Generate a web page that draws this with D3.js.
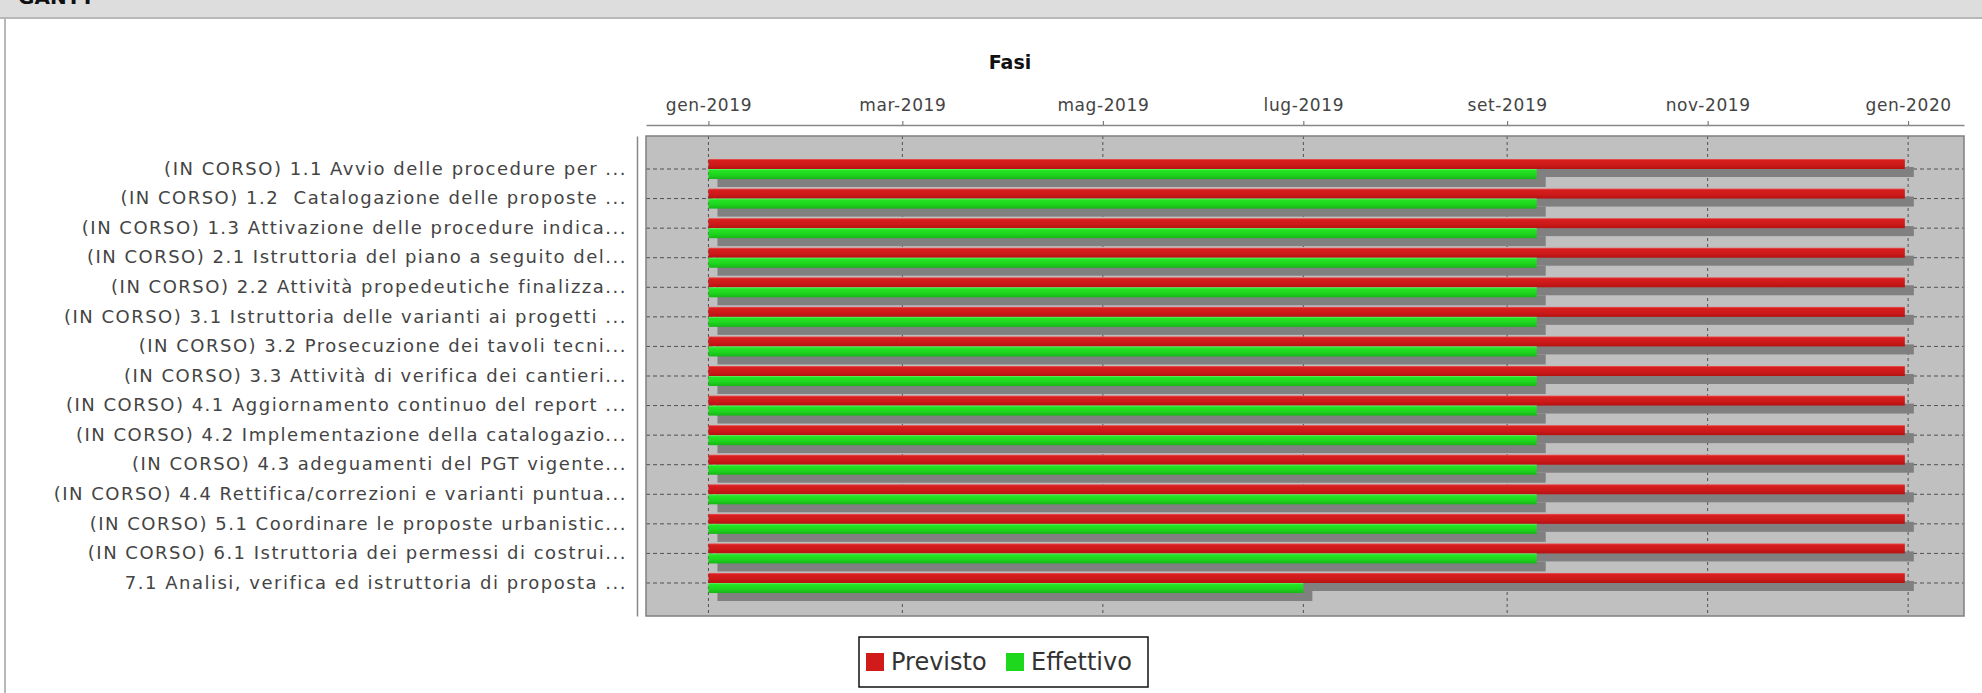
<!DOCTYPE html>
<meta charset="utf-8">
<style>
body { margin: 0; background: #fff; }
text { font-family: 'DejaVu Sans', sans-serif; }
.tick text { fill: #444; white-space: pre; }
</style>
<body>
<script src="https://d3js.org/d3.v7.min.js"></script>
<script>

	var categories = [
		"(IN CORSO) 1.1 Avvio delle procedure per ...",
		"(IN CORSO) 1.2  Catalogazione delle proposte ...",
		"(IN CORSO) 1.3 Attivazione delle procedure indica...",
		"(IN CORSO) 2.1 Istruttoria del piano a seguito del...",
		"(IN CORSO) 2.2 Attività propedeutiche finalizza...",
		"(IN CORSO) 3.1 Istruttoria delle varianti ai progetti ...",
		"(IN CORSO) 3.2 Prosecuzione dei tavoli tecni...",
		"(IN CORSO) 3.3 Attività di verifica dei cantieri...",
		"(IN CORSO) 4.1 Aggiornamento continuo del report ...",
		"(IN CORSO) 4.2 Implementazione della catalogazio...",
		"(IN CORSO) 4.3 adeguamenti del PGT vigente...",
		"(IN CORSO) 4.4 Rettifica/correzioni e varianti puntua...",
		"(IN CORSO) 5.1 Coordinare le proposte urbanistic...",
		"(IN CORSO) 6.1 Istruttoria dei permessi di costrui...",
		"7.1 Analisi, verifica ed istruttoria di proposta ..."
	];

	var seriesNames = ["Previsto", "Effettivo"];
	var seriesColours = ["#d11a1a", "#1ed81e"];

	var previstoStart = ["2019-01-01","2019-01-01","2019-01-01","2019-01-01","2019-01-01","2019-01-01","2019-01-01","2019-01-01","2019-01-01","2019-01-01","2019-01-01","2019-01-01","2019-01-01","2019-01-01","2019-01-01"];
	var previstoEnd = ["2019-12-31","2019-12-31","2019-12-31","2019-12-31","2019-12-31","2019-12-31","2019-12-31","2019-12-31","2019-12-31","2019-12-31","2019-12-31","2019-12-31","2019-12-31","2019-12-31","2019-12-31"];

	var effettivoStart = ["2019-01-01","2019-01-01","2019-01-01","2019-01-01","2019-01-01","2019-01-01","2019-01-01","2019-01-01","2019-01-01","2019-01-01","2019-01-01","2019-01-01","2019-01-01","2019-01-01","2019-01-01"];
	var effettivoEnd = ["2019-09-10","2019-09-10","2019-09-10","2019-09-10","2019-09-10","2019-09-10","2019-09-10","2019-09-10","2019-09-10","2019-09-10","2019-09-10","2019-09-10","2019-09-10","2019-09-10","2019-07-01"];

	var tickDates = ["2019-01-01","2019-03-01","2019-05-01","2019-07-01","2019-09-01","2019-11-01","2020-01-01"];
	var tickLabels = ["gen-2019","mar-2019","mag-2019","lug-2019","set-2019","nov-2019","gen-2020"];

	var title = "Fasi";
	var header = "GANTT";

	var width = 1982,
		height = 693;

	var plotLeft = 646, plotRight = 1964,
		plotTop = 136, plotBottom = 616;

	var shadowX = 9, shadowY = 8;

	var parse = d3.timeParse("%Y-%m-%d");

	var rows = categories.map(function(c, i) {
		return {
			name: c,
			bars: [
				{ series: seriesNames[0], start: parse(previstoStart[i]), end: parse(previstoEnd[i]) },
				{ series: seriesNames[1], start: parse(effettivoStart[i]), end: parse(effettivoEnd[i]) }
			]
		};
	});

	var svg = d3.select("body").append("svg")
		.attr("width", width)
		.attr("height", height);

	var defs = svg.append("defs");
	var grads = [
		["grad0", ["#e86060", "#d81e1e", "#cc1919", "#b51212"]],
		["grad1", ["#70f070", "#24e424", "#1ed41e", "#17b517"]]
	];
	grads.forEach(function(g) {
		var lg = defs.append("linearGradient").attr("id", g[0])
			.attr("x1", 0).attr("x2", 0).attr("y1", 0).attr("y2", 1);
		[0, 0.15, 0.6, 1].forEach(function(o, k) {
			lg.append("stop").attr("offset", o).attr("stop-color", g[1][k]);
		});
	});

	//header band
	svg.append("rect")
		.attr("x", 0).attr("y", 0)
		.attr("width", width).attr("height", 17)
		.attr("fill", "#dddddd");
	svg.append("line")
		.attr("x1", 0).attr("x2", width)
		.attr("y1", 18).attr("y2", 18)
		.style("stroke", "#b8b8b8").style("stroke-width", 2);
	svg.append("line")
		.attr("x1", 5).attr("x2", 5)
		.attr("y1", 18).attr("y2", height)
		.style("stroke", "#b8b8b8").style("stroke-width", 2);
	svg.append("text")
		.attr("x", 18).attr("y", 4)
		.style("font-size", "20px")
		.style("font-weight", "bold")
		.attr("fill", "#111")
		.text(header);

	var x = d3.scaleTime()
		.domain([d3.timeDay.offset(parse(previstoStart[0]), -18.2), d3.timeDay.offset(parse(previstoEnd[0]), 18.2)])
		.range([plotLeft, plotRight]);

	var y = d3.scaleBand()
		.domain(categories)
		.range([plotTop, plotBottom])
		.paddingInner(0.2)
		.paddingOuter(0.716);

	var ySub = d3.scaleBand()
		.domain(seriesNames)
		.range([0, y.bandwidth()])
		.paddingOuter(0.18);

	//plot background
	svg.append("rect")
		.attr("x", plotLeft).attr("y", plotTop)
		.attr("width", plotRight - plotLeft).attr("height", plotBottom - plotTop)
		.attr("fill", "#c0c0c0");

	var ticks = tickDates.map(parse);

	//gridlines
	svg.append("g").selectAll("line")
		.data(ticks)
		.enter().append("line")
			.attr("x1", function(d) { return x(d); })
			.attr("x2", function(d) { return x(d); })
			.attr("y1", plotTop).attr("y2", plotBottom)
			.style("stroke", "#505050")
			.style("stroke-width", 1)
			.style("stroke-dasharray", "3,3");

	svg.append("g").selectAll("line")
		.data(categories)
		.enter().append("line")
			.attr("x1", plotLeft).attr("x2", plotRight)
			.attr("y1", function(d) { return y(d) + y.bandwidth()/2; })
			.attr("y2", function(d) { return y(d) + y.bandwidth()/2; })
			.style("stroke", "#505050")
			.style("stroke-width", 1)
			.style("stroke-dasharray", "4,3");

	var rowG = svg.append("g").selectAll("g")
		.data(rows)
		.enter().append("g")
			.attr("transform", function(d) { return "translate(0," + y(d.name) + ")"; });

	//shadows
	rowG.selectAll(".shadow")
		.data(function(d) { return d.bars; })
		.enter().append("rect")
			.attr("class", "shadow")
			.attr("x", function(d) { return x(d.start) + shadowX; })
			.attr("y", function(d) { return ySub(d.series) + shadowY; })
			.attr("width", function(d) { return x(d.end) - x(d.start); })
			.attr("height", ySub.bandwidth())
			.attr("fill", "#808080");

	rowG.selectAll(".bar")
		.data(function(d) { return d.bars; })
		.enter().append("rect")
			.attr("class", "bar")
			.attr("x", function(d) { return x(d.start); })
			.attr("y", function(d) { return ySub(d.series); })
			.attr("width", function(d) { return x(d.end) - x(d.start); })
			.attr("height", ySub.bandwidth())
			.attr("fill", function(d) { return "url(#grad" + seriesNames.indexOf(d.series) + ")"; });

	//plot outline
	svg.append("rect")
		.attr("x", plotLeft).attr("y", plotTop)
		.attr("width", plotRight - plotLeft).attr("height", plotBottom - plotTop)
		.attr("fill", "none")
		.style("stroke", "#808080")
		.style("stroke-width", 1.5);

	//date axis on top
	var xAxis = d3.axisTop(x)
		.tickValues(ticks)
		.tickFormat(function(d, i) { return tickLabels[i]; })
		.tickSizeInner(4)
		.tickSizeOuter(0)
		.tickPadding(10);

	var gx = svg.append("g")
		.attr("transform", "translate(0," + (plotTop - 11) + ")")
		.call(xAxis);
	gx.select(".domain").style("stroke", "#888").style("stroke-width", 1.5);
	gx.selectAll(".tick line").style("stroke", "#666");
	gx.selectAll(".tick text")
		.style("font-size", "17px")
		.style("letter-spacing", "0.6px")
		.attr("font-family", null);

	//category axis
	var yAxis = d3.axisLeft(y)
		.tickSize(0)
		.tickPadding(10);

	var gy = svg.append("g")
		.attr("transform", "translate(" + (plotLeft - 9) + ",0)")
		.call(yAxis);
	gy.select(".domain").style("stroke", "#888").style("stroke-width", 1.5);
	gy.selectAll(".tick text")
		.style("font-size", "18px")
		.style("letter-spacing", "1.5px")
		.attr("fill", "#3a3a3a")
		.attr("font-family", null);

	//title
	svg.append("text")
		.attr("x", 1010)
		.attr("y", 69)
		.attr("text-anchor", "middle")
		.style("font-size", "19px")
		.style("font-weight", "bold")
		.attr("fill", "#111")
		.text(title);

	//legend
	var legend = svg.append("g");
	legend.append("rect")
		.attr("x", 859).attr("y", 637)
		.attr("width", 289).attr("height", 50)
		.attr("fill", "#fff")
		.style("stroke", "#111")
		.style("stroke-width", 1.5);

	var legendX = [866, 1006];
	seriesNames.forEach(function(s, i) {
		legend.append("rect")
			.attr("x", legendX[i]).attr("y", 653)
			.attr("width", 18).attr("height", 18)
			.attr("fill", seriesColours[i]);
		legend.append("text")
			.attr("x", legendX[i] + 25)
			.attr("y", 670)
			.style("font-size", "24px")
			.attr("fill", "#333")
			.text(s);
	});

</script>
</body>
